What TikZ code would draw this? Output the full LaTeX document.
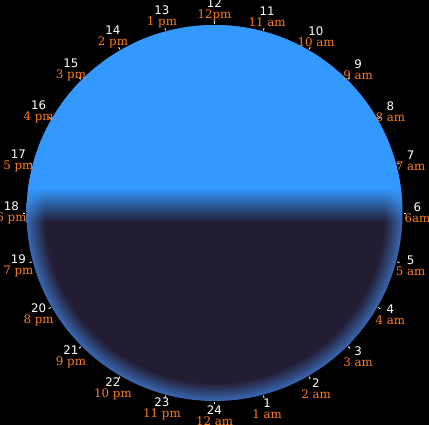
\documentclass[tikz,border=0pt]{standalone}
\usepackage{fontspec}
\newfontfamily\hourfont{DejaVu Sans}
\newfontfamily\ampmfont{DejaVu Serif}
\usetikzlibrary{fadings}

\definecolor{skyblue}{RGB}{51,153,255}
\definecolor{night}{RGB}{35,29,51}
\definecolor{rimblue}{RGB}{58,104,178}
\definecolor{hourorange}{RGB}{255,124,28}

% sky fades out towards the horizon
\tikzfading[name=dusk, top color=transparent!0, bottom color=transparent!100]
% night side with a bluish rim
\pgfdeclareradialshading{nightrim}{\pgfpoint{0bp}{0bp}}{color(0bp)=(night); color(22.6bp)=(night); color(25bp)=(rimblue); color(50bp)=(rimblue)}

\begin{document}
\begin{tikzpicture}[x=1pt, y=1pt,
  % two line label: hour number over clock time
  hourlabel/.style={align=center, inner sep=0pt,
                    font=\fontsize{11.8}{11}\selectfont},
  hourtick/.style={white, line width=0.8pt}
]
  % Background
  \fill[black] (-214.5,-212) rectangle (214.5,213);
  \useasboundingbox (-214.5,-212) rectangle (214.5,213);

  % Globe
  \coordinate (globe) at (0,0);
  \begin{scope}
    \clip (globe) circle (188);
    \shade[shading=nightrim] (globe) circle (188);
    \fill[skyblue] (-190,25) rectangle (190,190);
    \fill[skyblue, path fading=dusk] (-190,-9) rectangle (190,25);
  \end{scope}

  % Hours round the globe (hour 6 to the right, counterclockwise)
  \foreach \h/\t in {1/1 am, 2/2 am, 3/3 am, 4/4 am, 5/5 am, 6/6am,
                     7/7 am, 8/8 am, 9/9 am, 10/10 am, 11/11 am, 12/12pm,
                     13/1 pm, 14/2 pm, 15/3 pm, 16/4 pm, 17/5 pm, 18/6 pm,
                     19/7 pm, 20/8 pm, 21/9 pm, 22/10 pm, 23/11 pm, 24/12 am} {
    \pgfmathsetmacro\a{(\h-6)*15}
    \coordinate (t\h) at (\a:189pt);
    \draw[hourtick] (t\h) -- ++(\a:2.5pt);
    \node[hourlabel] (h\h) at (\a:203pt)
      {{\color{white}\hourfont \h}\\{\color{hourorange}\ampmfont \t}};
  }
\end{tikzpicture}
\end{document}
